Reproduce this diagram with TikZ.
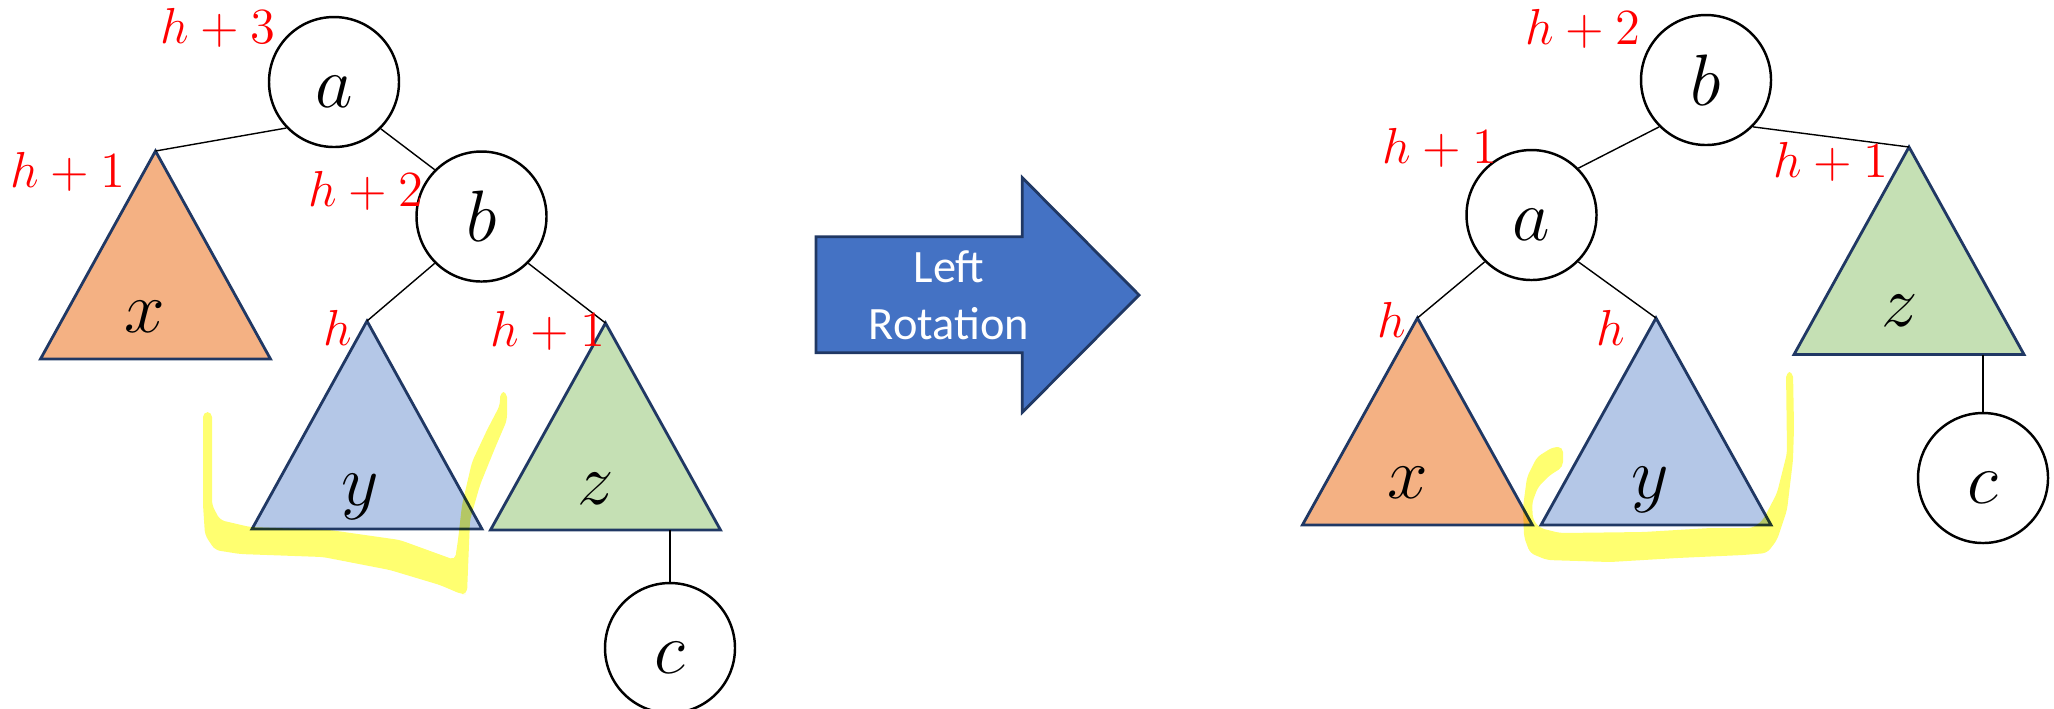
\documentclass[tikz,border=0pt]{standalone}
\usepackage{fontspec}
\newfontfamily\carlito{Carlito}
\definecolor{trO}{HTML}{F4B183}
\definecolor{trBl}{HTML}{B4C7E7}
\definecolor{trG}{HTML}{C5E0B4}
\definecolor{navy}{HTML}{203864}
\definecolor{arrF}{HTML}{4472C4}
\definecolor{hiY}{HTML}{FFFF70}
\begin{document}
\begin{tikzpicture}[x=0.1mm,y=-0.1mm,
  circ/.style={circle,draw=black,line width=0.7pt,fill=white,minimum size=13mm,inner sep=0pt,
    font=\fontsize{22}{24}\selectfont,text height=5mm,text depth=0mm},
  edge/.style={draw=black,line width=0.4pt},
  tri/.style={draw=navy,line width=0.8pt,line join=miter},
  hlab/.style={text=red,font=\fontsize{14}{16}\selectfont,inner sep=0pt},
  tlab/.style={font=\fontsize{22}{24}\selectfont,inner sep=0pt,anchor=base},
  hilite/.style={fill=hiY,draw=none,blend mode=multiply,rounded corners=0.5mm},
  bigarrow/.style={fill=arrF,draw=navy,line width=0.8pt,line join=miter}]
\useasboundingbox (0,0) rectangle (2054,708);

% ---------------- left tree ----------------
\coordinate (Lxa) at (155.5,151);
\coordinate (Lya) at (367,321);
\coordinate (Lza) at (605.5,323);
\coordinate (Lzc) at (670,530);
\draw[tri,fill=trO]  (Lxa) -- ++(-115,208) -- ++(230,0) -- cycle;
\draw[tri,fill=trBl] (Lya) -- ++(-115,208) -- ++(230,0) -- cycle;
\draw[tri,fill=trG]  (Lza) -- ++(-115,207) -- ++(230,0) -- cycle;
\node[tlab] (Lxl) at (145,332) {$x$};
\node[tlab] (Lyl) at (360,505) {$y$};
\node[tlab] (Lzl) at (596,504) {$z$};

\node[circ] (La) at (334,82) {$a$};
\node[circ] (Lb) at (481.5,216.5) {$b$};
\node[circ] (Lc) at (670,648) {$c$};

\draw[edge] (La.224) -- (Lxa);
\draw[edge] (La.-45) -- (Lb.135);
\draw[edge] (Lb.225) -- (Lya);
\draw[edge] (Lb.-45) -- (Lza);
\draw[edge] (Lzc) -- (Lc.north);

\node[hlab] (Lh3) at (218,28) {$h+3$};
\node[hlab] (Lh1x) at (68,172) {$h+1$};
\node[hlab] (Lh2) at (366,191) {$h+2$};
\node[hlab] (Lhy) at (338,328) {$h$};
\node[hlab] (Lh1z) at (548,331) {$h+1$};

% ---------------- arrow ----------------
\draw[bigarrow] (816,236.7) -- (1022.3,236.7) -- (1022.3,177.7) -- (1139,295)
  -- (1022.3,412.3) -- (1022.3,352.7) -- (816,352.7) -- cycle;
\node[text=white,font=\carlito\fontsize{13.2}{16.2}\selectfont,align=center,inner sep=0pt]
  (rot) at (949,295) {Left\\Rotation};

% ---------------- right tree ----------------
\coordinate (Rxa) at (1417.4,318);
\coordinate (Rya) at (1656,318);
\coordinate (Rza) at (1909,147);
\coordinate (Rzc) at (1983,354.5);
\draw[tri,fill=trO]  (Rxa) -- ++(-115,207) -- ++(230,0) -- cycle;
\draw[tri,fill=trBl] (Rya) -- ++(-115,207) -- ++(230,0) -- cycle;
\draw[tri,fill=trG]  (Rza) -- ++(-115,207.5) -- ++(230,0) -- cycle;
\node[tlab] (Rxl) at (1408,498) {$x$};
\node[tlab] (Ryl) at (1650,498) {$y$};
\node[tlab] (Rzl) at (1900,326) {$z$};

\node[circ] (Rb) at (1706,80) {$b$};
\node[circ] (Ra) at (1531.5,215) {$a$};
\node[circ] (Rc) at (1983,478) {$c$};

\draw[edge] (Rb.225) -- (Ra.45);
\draw[edge] (Rb.-45) -- (Rza);
\draw[edge] (Ra.225) -- (Rxa);
\draw[edge] (Ra.-45) -- (Rya);
\draw[edge] (Rzc) -- (Rc.north);

\node[hlab] (Rh2) at (1583,29) {$h+2$};
\node[hlab] (Rh1a) at (1440,148) {$h+1$};
\node[hlab] (Rh1z) at (1831,162) {$h+1$};
\node[hlab] (Rhx) at (1392,320) {$h$};
\node[hlab] (Rhy) at (1611,328) {$h$};

% ---------------- highlighter strokes ----------------
\fill[hilite] (203,412) -- (212,412) -- (212,505) -- (220,520) -- (250,527) -- (330,530)
  -- (400,540) -- (455,560) -- (458,540) -- (462,505) -- (472,462) -- (487,430)
  -- (500,405) -- (500,392) -- (507,392) -- (507,420) -- (495,448) -- (480,485)
  -- (470,520) -- (467,594) -- (461,594) -- (440,585) -- (390,570) -- (323,557)
  -- (240,554) -- (215,550) -- (205,535) -- (203,505) -- cycle;
\fill[hilite] (1553,447) -- (1537,457) -- (1527,477) -- (1523,507) -- (1524,537)
  -- (1530,553) -- (1547,560) -- (1610,562) -- (1677,558) -- (1743,555) -- (1767,553)
  -- (1777,540) -- (1787,510) -- (1793,460) -- (1794,427) -- (1793,372) -- (1786,372)
  -- (1787,453) -- (1777,493) -- (1763,520) -- (1753,528) -- (1710,528) -- (1643,532)
  -- (1560,533) -- (1540,528) -- (1533,520) -- (1532,503) -- (1538,487) -- (1550,475)
  -- (1563,467) -- (1563,447) -- cycle;
\end{tikzpicture}
\end{document}
